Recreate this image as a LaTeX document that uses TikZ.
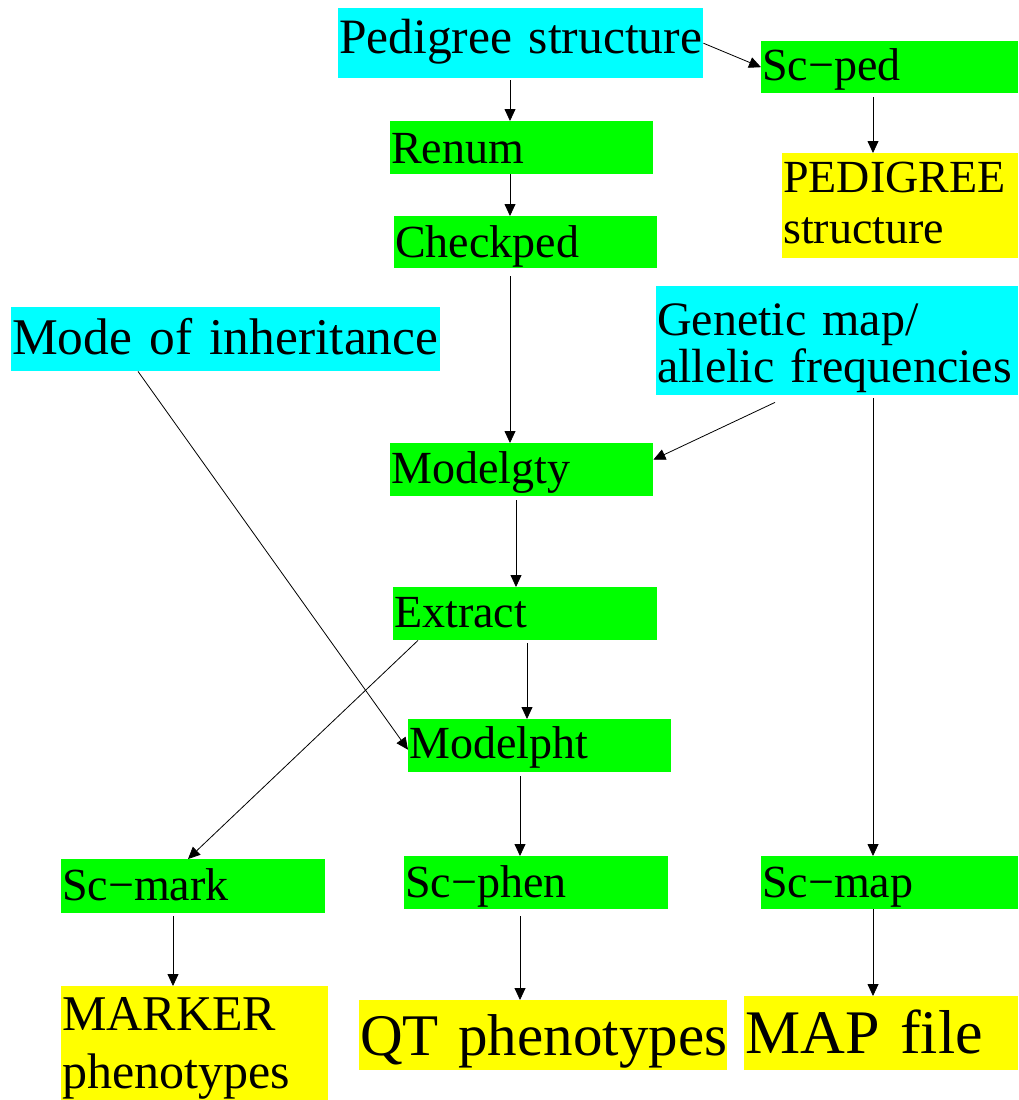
\documentclass[tikz,border=0pt]{standalone}
\usepackage{fontspec}
\setmainfont{Liberation Serif}
\usetikzlibrary{arrows.meta}
\definecolor{srccyan}{RGB}{0,255,255}
\definecolor{pgmgreen}{RGB}{0,255,0}
\definecolor{outyellow}{RGB}{255,255,0}
\begin{document}
\begin{tikzpicture}[
  x=1pt, y=-1pt,
  blk/.style={rectangle, anchor=north west, inner xsep=1pt, inner ysep=0pt,
              align=left, font=\fontsize{46}{51}\selectfont},
  src/.style={blk, fill=srccyan},
  pgm/.style={blk, fill=pgmgreen},
  outfile/.style={blk, fill=outyellow},
  arr/.style={-{Triangle[length=12pt,width=11pt]}, line width=0.8pt, black}
]
\useasboundingbox (0,0) rectangle (1018,1100);

% inputs
\node[src, text width=363pt, text height=45pt, text depth=25pt,
      font=\fontsize{49.5}{54}\selectfont] (ped) at (338,8) {\mbox{Pedigree structure}};
\node[src, text width=427pt, text height=47pt, text depth=17pt,
      font=\fontsize{51.5}{57}\selectfont] (mode) at (11,307) {\mbox{Mode of inheritance}};
\node[src, text width=360pt, text height=49pt, text depth=60pt,
      font=\fontsize{48}{47}\selectfont] (genmap) at (656,286) {\mbox{Genetic map/}\\\mbox{allelic frequencies}};

% programs
\node[pgm, text width=255pt, text height=39pt, text depth=13pt] (scped) at (761,41) {Sc−ped};
\node[pgm, text width=261pt, text height=42pt, text depth=11pt] (renum) at (390,121) {Renum};
\node[pgm, text width=261pt, text height=41pt, text depth=11pt] (checkped) at (394,216) {Checkped};
\node[pgm, text width=261pt, text height=40pt, text depth=13pt] (modelgty) at (390,443) {Modelgty};
\node[pgm, text width=262pt, text height=40pt, text depth=13pt] (extract) at (393,587) {Extract};
\node[pgm, text width=261pt, text height=39pt, text depth=14pt] (modelpht) at (408,719) {Modelpht};
\node[pgm, text width=262pt, text height=41pt, text depth=13pt] (scmark) at (61,859) {Sc−mark};
\node[pgm, text width=262pt, text height=41pt, text depth=12pt] (scphen) at (404,856) {Sc−phen};
\node[pgm, text width=255pt, text height=41pt, text depth=12pt] (scmap) at (761,856) {Sc−map};

% output files
\node[outfile, text width=234pt, text height=39pt, text depth=66pt] (pedfile) at (782,153) {PEDIGREE\\structure};
\node[outfile, text width=265pt, text height=44pt, text depth=80pt,
      font=\fontsize{50}{58}\selectfont] (markerfile) at (61,986) {MARKER\\phenotypes};
\node[outfile, text width=366pt, text height=55pt, text depth=15pt,
      font=\fontsize{59}{64}\selectfont] (qtfile) at (359,1000) {\mbox{QT phenotypes}};
\node[outfile, text width=272pt, text height=57pt, text depth=17pt,
      font=\fontsize{62}{68}\selectfont] (mapfile) at (744,996) {\mbox{MAP file}};

\draw[arr] (ped.east) -- (scped.west);
\draw[arr] ([xshift=112pt]scped.south west) [shorten <=4pt] -- ([xshift=91pt]pedfile.north west);
\draw[arr] ([xshift=172pt]ped.south west) [shorten <=2pt] -- ([xshift=120pt]renum.north west);
\draw[arr] ([xshift=120pt]renum.south west) -- ([xshift=116pt]checkped.north west);
\draw[arr] ([xshift=116pt]checkped.south west) [shorten <=8pt] -- ([xshift=120pt]modelgty.north west);
\draw[arr] ([xshift=119pt,yshift=-7pt]genmap.south west) -- ([yshift=10pt]modelgty.east);
\draw[arr] ([xshift=126pt]modelgty.south west) [shorten <=4pt] -- ([xshift=123pt]extract.north west);
\draw[arr] ([xshift=134pt]extract.south west) [shorten <=3pt] -- ([xshift=119pt]modelpht.north west);
\draw[arr] ([xshift=127pt]mode.south west) -- ([yshift=-4pt]modelpht.west);
\draw[arr] ([xshift=25pt]extract.south west) -- ([xshift=127pt]scmark.north west);
\draw[arr] ([xshift=112pt]modelpht.south west) [shorten <=4pt] -- ([xshift=116pt]scphen.north west);
\draw[arr] ([xshift=217pt]genmap.south west) [shorten <=3pt] -- ([xshift=112pt]scmap.north west);
\draw[arr] ([xshift=112pt]scmark.south west) [shorten <=3pt] -- ([xshift=112pt]markerfile.north west);
\draw[arr] ([xshift=116pt]scphen.south west) [shorten <=7pt] -- ([xshift=161pt]qtfile.north west);
\draw[arr] ([xshift=112pt]scmap.south west) -- ([xshift=129pt]mapfile.north west);
\end{tikzpicture}
\end{document}
